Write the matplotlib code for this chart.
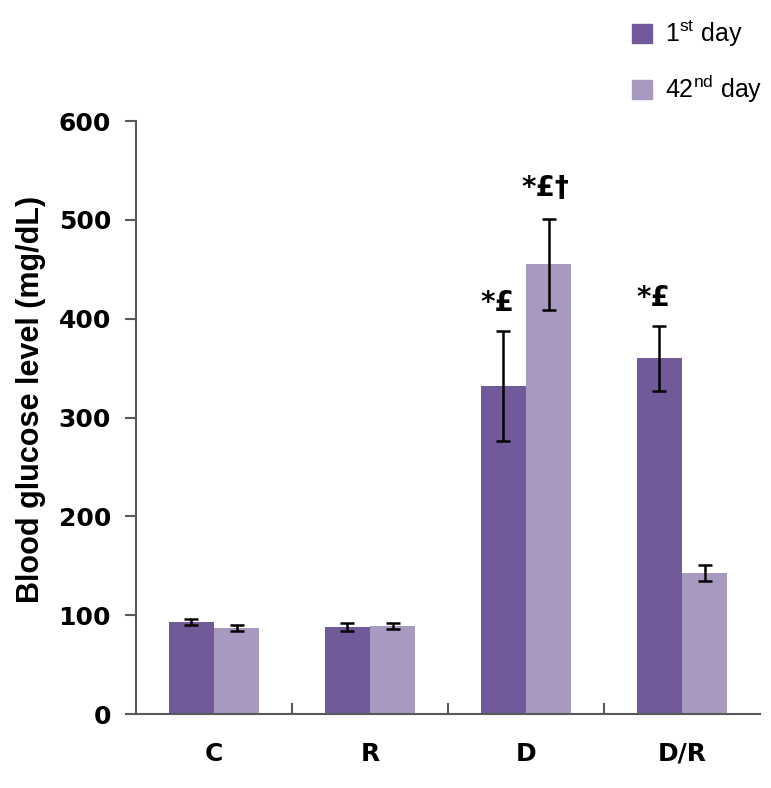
import numpy as np
import matplotlib.pyplot as plt
from matplotlib.patches import Patch

plt.rcParams['font.family'] = 'Liberation Sans'
plt.rcParams['mathtext.fontset'] = 'custom'
plt.rcParams['mathtext.rm'] = 'Liberation Sans'

# data
groups = ["C", "R", "D", "D/R"]
day1 = [93, 88, 332, 360]
day1_err = [3, 4, 56, 33]
day42 = [87, 89, 455, 143]
day42_err = [3, 3, 46, 8]
labels1 = ["", "", "*£", "*£"]
labels42 = ["", "", "*£†", ""]

c1 = "#71599a"
c42 = "#a899c0"
axis_col = "#595959"

fig = plt.figure(figsize=(7.71, 7.88), dpi=100)
ax = fig.add_axes([0.1764, 0.0939, 0.8093, 0.7525])

x = np.arange(len(groups))
w = 0.29
ax.bar(x - w/2, day1, w, color=c1, yerr=day1_err, capsize=4.8,
       error_kw=dict(elinewidth=1.8, capthick=1.8, ecolor="black"))
ax.bar(x + w/2, day42, w, color=c42, yerr=day42_err, capsize=4.8,
       error_kw=dict(elinewidth=1.8, capthick=1.8, ecolor="black"))

# significance marks
for xi, v, e, t in zip(x - w/2, day1, day1_err, labels1):
    if t:
        ax.annotate(t, (xi - 0.04, v + e), xytext=(0, 10), textcoords="offset points",
                    ha="center", va="bottom", fontsize=20, fontweight="bold",
                    family="DejaVu Sans")
for xi, v, e, t in zip(x + w/2, day42, day42_err, labels42):
    if t:
        ax.annotate(t, (xi - 0.02, v + e), xytext=(0, 12), textcoords="offset points",
                    ha="center", va="bottom", fontsize=20, fontweight="bold",
                    family="DejaVu Sans")

ax.set_xlim(-0.5, len(groups) - 0.5)
ax.set_ylim(0, 600)
ax.set_yticks(np.arange(0, 601, 100))
ax.set_xticks(x)
ax.set_xticklabels(groups, fontsize=18, fontweight="bold", family="DejaVu Sans")
ax.set_xticks(x[:-1] + 0.5, minor=True)
ax.tick_params(axis="x", which="major", length=0, pad=20)
ax.tick_params(axis="x", which="minor", direction="in", length=8, width=1.5, color=axis_col)
ax.tick_params(axis="y", direction="out", length=8, width=1.5, color=axis_col, pad=10)
for lab in ax.get_yticklabels():
    lab.set_fontsize(18)
    lab.set_fontweight("bold")
    lab.set_family("DejaVu Sans")

ax.set_ylabel("Blood glucose level (mg/dL)", fontsize=22, fontweight="bold")
ax.yaxis.set_label_coords(-0.145, 0.53)

for s in ["top", "right"]:
    ax.spines[s].set_visible(False)
for s in ["left", "bottom"]:
    ax.spines[s].set_color(axis_col)
    ax.spines[s].set_linewidth(1.5)

handles = [Patch(color=c1), Patch(color=c42)]
fig.legend(handles, ["1$^{\\mathrm{st}}$ day", "42$^{\\mathrm{nd}}$ day"],
           loc="upper left", bbox_to_anchor=(0.79, 1.005), frameon=False,
           fontsize=18, handlelength=0.8, handleheight=0.8, handletextpad=0.55,
           labelspacing=0.95)

fig.savefig("out.png", dpi=100)
